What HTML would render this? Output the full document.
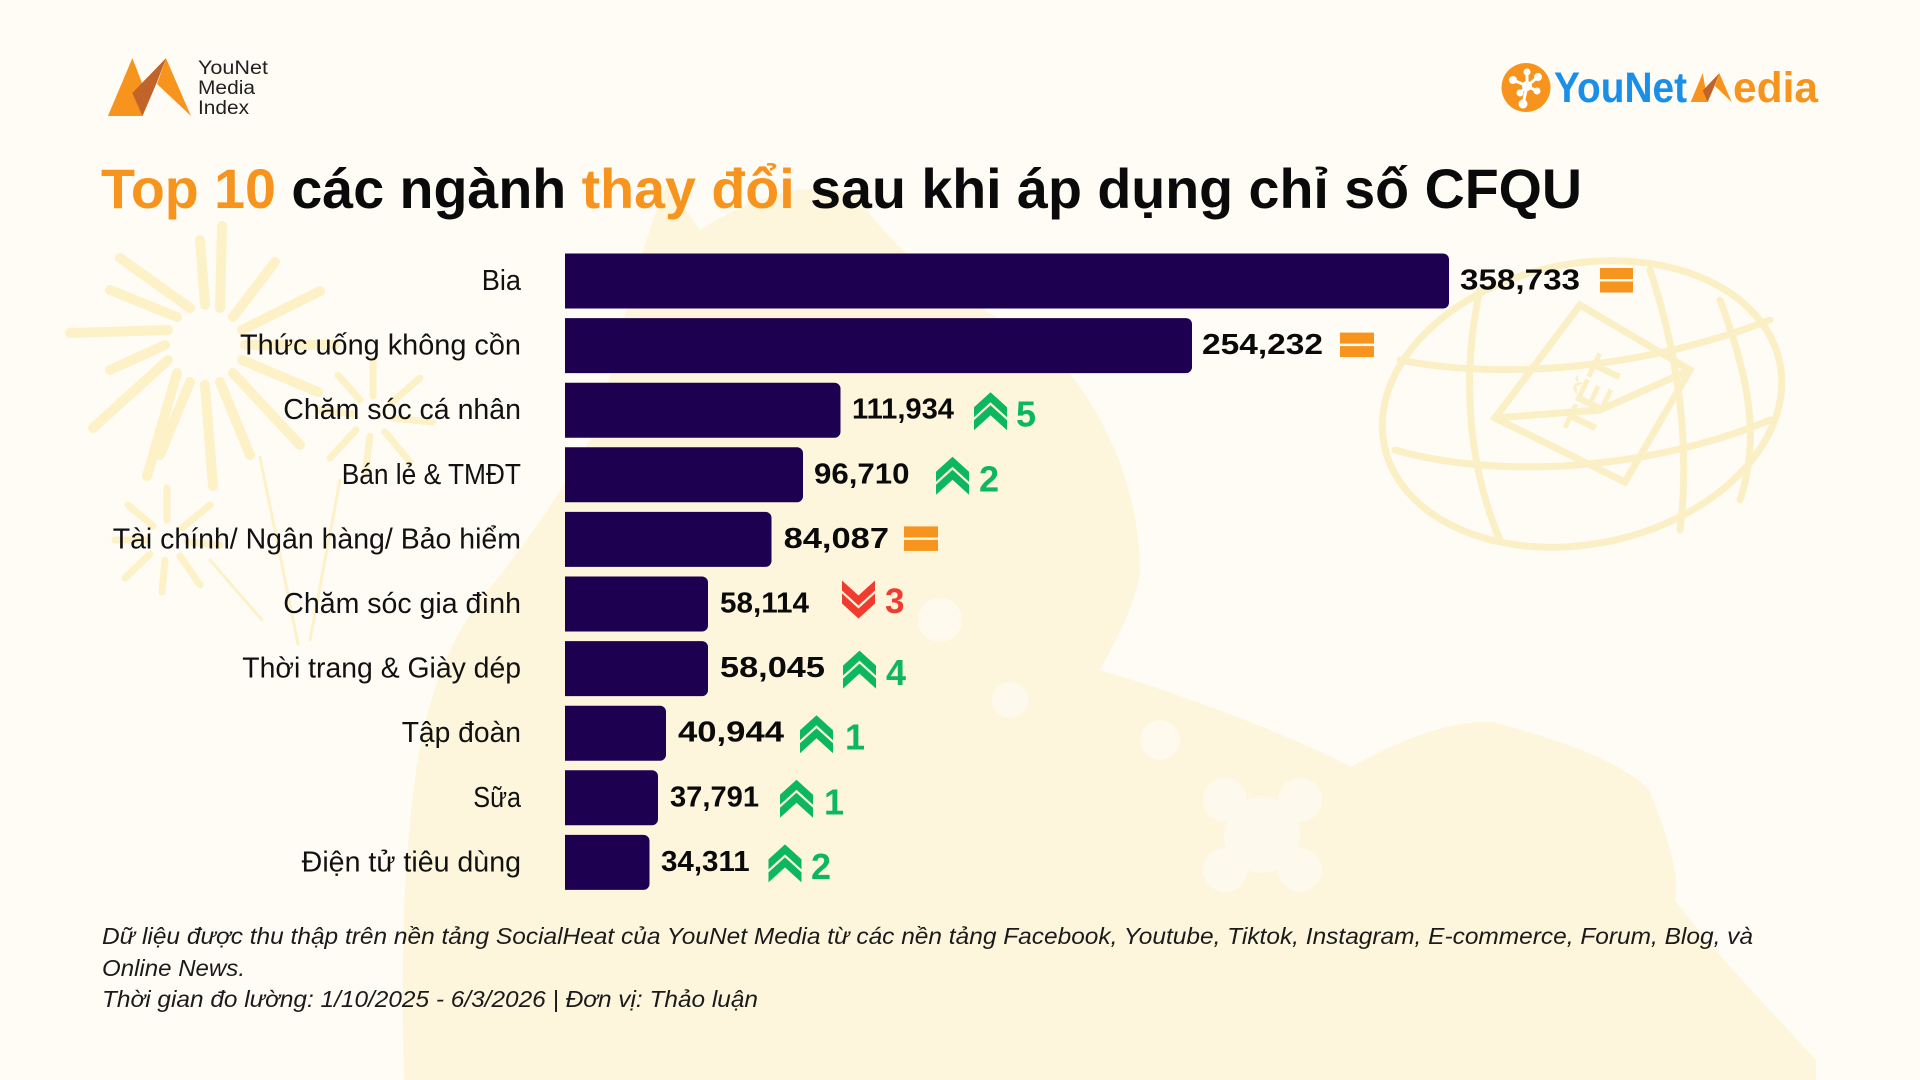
<!DOCTYPE html>
<html>
<head>
<meta charset="utf-8">
<style>
  html,body{margin:0;padding:0;background:#fffcf6;}
  svg{display:block;}
  text{font-family:"Liberation Sans","DejaVu Sans",sans-serif;}
</style>
</head>
<body>
<svg width="1920" height="1080" viewBox="0 0 1920 1080" xmlns="http://www.w3.org/2000/svg">
  <rect x="0" y="0" width="1920" height="1080" fill="#fffcf6"/>

  <!-- horse silhouette (faint) -->
  <path fill="#fdf5dc" d="M404 1080 C400 950,405 850,415 780 C425 700,450 640,480 600 C530 540,570 480,600 420 C620 330,640 250,667 184 L700 230 C760 190,820 180,857 196 C900 260,960 300,1040 340 C1100 400,1140 480,1140 575 C1130 620,1110 650,1100 670 C1200 700,1300 740,1351 767 C1400 740,1450 720,1492 722 C1560 740,1620 760,1649 790 C1670 840,1680 880,1675 900 C1720 960,1780 1020,1816 1060 L1816 1080 Z"/>
  <!-- a few white flowers on horse -->
  <g fill="#fffaf0" opacity="0.85">
    <circle cx="1262" cy="835" r="38"/><circle cx="1225" cy="800" r="22"/><circle cx="1300" cy="800" r="22"/><circle cx="1225" cy="870" r="22"/><circle cx="1300" cy="870" r="22"/>
    <circle cx="1160" cy="740" r="20"/>
    <circle cx="940" cy="620" r="22"/>
    <circle cx="1010" cy="700" r="18"/>
  </g>

  <!-- fireworks -->
  <g stroke="#fdf1c8" stroke-linecap="round" fill="none">
    <g stroke-width="10">
      <line x1="245" y1="345" x2="335" y2="345"/>
      <line x1="242" y1="360" x2="318" y2="392"/>
      <line x1="233" y1="373" x2="300" y2="445"/>
      <line x1="220" y1="382" x2="250" y2="455"/>
      <line x1="205" y1="385" x2="213" y2="486"/>
      <line x1="190" y1="382" x2="160" y2="455"/>
      <line x1="177" y1="373" x2="147" y2="476"/>
      <line x1="168" y1="360" x2="93" y2="428"/>
      <line x1="165" y1="345" x2="110" y2="370"/>
      <line x1="168" y1="330" x2="70" y2="333"/>
      <line x1="177" y1="317" x2="110" y2="290"/>
      <line x1="190" y1="308" x2="120" y2="258"/>
      <line x1="205" y1="305" x2="200" y2="240"/>
      <line x1="220" y1="308" x2="222" y2="226"/>
      <line x1="233" y1="317" x2="275" y2="262"/>
      <line x1="242" y1="330" x2="320" y2="291"/>
    </g>
    <g stroke-width="7">
      <line x1="167" y1="520" x2="167" y2="488"/>
      <line x1="182" y1="528" x2="210" y2="505"/>
      <line x1="187" y1="542" x2="220" y2="545"/>
      <line x1="180" y1="556" x2="200" y2="585"/>
      <line x1="165" y1="560" x2="162" y2="592"/>
      <line x1="150" y1="554" x2="125" y2="578"/>
      <line x1="147" y1="540" x2="115" y2="540"/>
      <line x1="153" y1="526" x2="128" y2="505"/>
      <line x1="373" y1="396" x2="373" y2="360"/>
      <line x1="390" y1="404" x2="420" y2="378"/>
      <line x1="393" y1="418" x2="432" y2="422"/>
      <line x1="385" y1="432" x2="410" y2="462"/>
      <line x1="370" y1="436" x2="365" y2="475"/>
      <line x1="356" y1="430" x2="330" y2="458"/>
      <line x1="353" y1="414" x2="318" y2="410"/>
      <line x1="360" y1="400" x2="338" y2="375"/>
    </g>
    <g stroke-width="3">
      <line x1="260" y1="457" x2="298" y2="644"/>
      <line x1="340" y1="480" x2="310" y2="640"/>
      <line x1="210" y1="560" x2="262" y2="620"/>
    </g>
  </g>

  <!-- lantern / globe with TET -->
  <g stroke="#fbefc6" stroke-width="7" fill="none" stroke-linecap="round">
    <ellipse cx="1582" cy="404" rx="202" ry="140" transform="rotate(-12 1582 404)"/>
    <path d="M1400 360 C1500 380,1640 370,1770 320"/>
    <path d="M1395 450 C1500 480,1650 470,1770 420"/>
    <path d="M1480 290 C1460 380,1470 470,1500 540"/>
    <path d="M1650 270 C1680 360,1690 450,1680 530"/>
    <path d="M1720 300 C1750 380,1760 440,1740 500"/>
    <polygon points="1580,305 1495,418 1625,482 1690,370"/>
    <path d="M1495 418 L1600 410 L1690 370"/>
  </g>
  <text x="0" y="0" font-size="44" font-weight="bold" fill="#fbefc6" transform="translate(1590 440) rotate(-65)">TẾT</text>

  <!-- top-left logo -->
  <g>
    <polygon points="108,116 132.4,58.3 146,93 136,104" fill="#f7941d"/>
    <polygon points="132.4,93 166,58.3 156.5,83 142.4,116" fill="#c0642a"/>
    <polygon points="166,58.3 191,116 157,84" fill="#f7941d"/>
    <polygon points="108,116 132.4,58.3 142.4,116" fill="#f7941d"/>
    <polygon points="132.4,93 166,58.3 156.5,83 142.4,116" fill="#c0642a"/>
    <text x="198" y="74" font-size="19" fill="#231f20" textLength="70" lengthAdjust="spacingAndGlyphs">YouNet</text>
    <text x="198" y="94" font-size="19" fill="#231f20" textLength="57" lengthAdjust="spacingAndGlyphs">Media</text>
    <text x="198" y="114" font-size="19" fill="#231f20" textLength="51" lengthAdjust="spacingAndGlyphs">Index</text>
  </g>

  <!-- top-right logo -->
  <g>
    <circle cx="1526" cy="87.5" r="24.5" fill="#f7941d"/>
    <g stroke="#ffffff" stroke-width="3">
      <line x1="1513" y1="80" x2="1527" y2="86"/>
      <line x1="1527" y1="72" x2="1527" y2="86"/>
      <line x1="1538" y1="77" x2="1527" y2="86"/>
      <line x1="1520" y1="93" x2="1527" y2="86"/>
      <line x1="1537" y1="91" x2="1527" y2="86"/>
      <line x1="1523" y1="104" x2="1527" y2="86"/>
    </g>
    <g fill="#ffffff">
      <circle cx="1527" cy="86" r="5"/>
      <circle cx="1513" cy="80" r="4"/>
      <circle cx="1527" cy="72" r="3.5"/>
      <circle cx="1538" cy="77" r="4"/>
      <circle cx="1520" cy="93" r="3.5"/>
      <circle cx="1537" cy="91" r="3.5"/>
      <circle cx="1523" cy="104" r="4.5"/>
    </g>
    <text x="1554" y="102" font-size="43" font-weight="bold" fill="#1a8fe8" textLength="133" lengthAdjust="spacingAndGlyphs">YouNet</text>
    <g transform="translate(1637.35 44) scale(0.494 0.5)">
      <polygon points="108,116 132.4,58.3 142.4,116" fill="#f7941d"/>
      <polygon points="166,58.3 191,116 157,84" fill="#f7941d"/>
      <polygon points="132.4,93 166,58.3 156.5,83 142.4,116" fill="#c0642a"/>
    </g>
    <text x="1733" y="102" font-size="43" font-weight="bold" fill="#f7941d" textLength="85" lengthAdjust="spacingAndGlyphs">edia</text>
  </g>

  <!-- title -->
  <text x="101" y="208" font-size="55.5" font-weight="bold" fill="#0a0a0a" textLength="1481" lengthAdjust="spacingAndGlyphs"><tspan fill="#f7941d">Top 10</tspan> các ngành <tspan fill="#f7941d">thay đổi</tspan> sau khi áp dụng chỉ số CFQU</text>

  <!-- bars -->
  <g fill="#1e0050">
    <path d="M565 253.5 h878 a6 6 0 0 1 6 6 v43 a6 6 0 0 1 -6 6 h-878 z"/>
    <path d="M565 318.1 h621 a6 6 0 0 1 6 6 v43 a6 6 0 0 1 -6 6 h-621 z"/>
    <path d="M565 382.7 h269.5 a6 6 0 0 1 6 6 v43 a6 6 0 0 1 -6 6 h-269.5 z"/>
    <path d="M565 447.3 h232 a6 6 0 0 1 6 6 v43 a6 6 0 0 1 -6 6 h-232 z"/>
    <path d="M565 511.9 h200.5 a6 6 0 0 1 6 6 v43 a6 6 0 0 1 -6 6 h-200.5 z"/>
    <path d="M565 576.5 h137 a6 6 0 0 1 6 6 v43 a6 6 0 0 1 -6 6 h-137 z"/>
    <path d="M565 641.1 h137 a6 6 0 0 1 6 6 v43 a6 6 0 0 1 -6 6 h-137 z"/>
    <path d="M565 705.7 h95 a6 6 0 0 1 6 6 v43 a6 6 0 0 1 -6 6 h-95 z"/>
    <path d="M565 770.3 h87 a6 6 0 0 1 6 6 v43 a6 6 0 0 1 -6 6 h-87 z"/>
    <path d="M565 834.9 h78.5 a6 6 0 0 1 6 6 v43 a6 6 0 0 1 -6 6 h-78.5 z"/>
  </g>

  <!-- labels -->
  <g font-size="28.5" fill="#111111">
    <text x="481.7" y="290" textLength="39.3" lengthAdjust="spacingAndGlyphs">Bia</text>
    <text x="240" y="354.6" textLength="281" lengthAdjust="spacingAndGlyphs">Thức uống không cồn</text>
    <text x="283.3" y="419.2" textLength="237.7" lengthAdjust="spacingAndGlyphs">Chăm sóc cá nhân</text>
    <text x="341.7" y="483.8" textLength="179.3" lengthAdjust="spacingAndGlyphs">Bán lẻ &amp; TMĐT</text>
    <text x="112.7" y="548.4" textLength="408.3" lengthAdjust="spacingAndGlyphs">Tài chính/ Ngân hàng/ Bảo hiểm</text>
    <text x="283.3" y="613" textLength="237.7" lengthAdjust="spacingAndGlyphs">Chăm sóc gia đình</text>
    <text x="242.3" y="677.6" textLength="278.7" lengthAdjust="spacingAndGlyphs">Thời trang &amp; Giày dép</text>
    <text x="401.7" y="742.2" textLength="119.3" lengthAdjust="spacingAndGlyphs">Tập đoàn</text>
    <text x="473.3" y="806.8" textLength="47.7" lengthAdjust="spacingAndGlyphs">Sữa</text>
    <text x="301.7" y="871.4" textLength="219.3" lengthAdjust="spacingAndGlyphs">Điện tử tiêu dùng</text>
  </g>

  <!-- values -->
  <g font-size="29" font-weight="bold" fill="#0a0a0a">
    <text x="1460" y="289.5" textLength="120" lengthAdjust="spacingAndGlyphs">358,733</text>
    <text x="1202" y="354.1" textLength="121" lengthAdjust="spacingAndGlyphs">254,232</text>
    <text x="852" y="418.7" textLength="102" lengthAdjust="spacingAndGlyphs">111,934</text>
    <text x="814" y="483.3" textLength="95.5" lengthAdjust="spacingAndGlyphs">96,710</text>
    <text x="783.6" y="547.9" textLength="105.4" lengthAdjust="spacingAndGlyphs">84,087</text>
    <text x="720" y="612.5" textLength="89" lengthAdjust="spacingAndGlyphs">58,114</text>
    <text x="720" y="677.1" textLength="105" lengthAdjust="spacingAndGlyphs">58,045</text>
    <text x="678" y="741.7" textLength="106" lengthAdjust="spacingAndGlyphs">40,944</text>
    <text x="670" y="806.3" textLength="89" lengthAdjust="spacingAndGlyphs">37,791</text>
    <text x="661" y="870.9" textLength="88.7" lengthAdjust="spacingAndGlyphs">34,311</text>
  </g>

  <!-- equal icons -->
  <g fill="#f7941d">
    <rect x="1600" y="268" width="33" height="11"/><rect x="1600" y="281.5" width="33" height="11"/>
    <rect x="1340" y="332.6" width="34" height="11"/><rect x="1340" y="346.1" width="34" height="11"/>
    <rect x="904" y="526.4" width="34" height="11"/><rect x="904" y="539.9" width="34" height="11"/>
  </g>

  <defs>
    <g id="up">
      <path d="M0 15 L16.5 0 L33 15 L33 25 L16.5 10 L0 25 Z"/>
      <path d="M0 28 L16.5 13 L33 28 L33 38 L16.5 23 L0 38 Z"/>
    </g>
    <g id="down">
      <path d="M0 0 L16.5 15 L33 0 L33 10 L16.5 25 L0 10 Z"/>
      <path d="M0 13 L16.5 28 L33 13 L33 23 L16.5 38 L0 23 Z"/>
    </g>
  </defs>

  <!-- arrows -->
  <g fill="#0cb760">
    <use href="#up" x="974" y="392.2"/>
    <use href="#up" x="936" y="456.8"/>
    <use href="#up" x="843" y="650.6"/>
    <use href="#up" x="800" y="715.2"/>
    <use href="#up" x="780" y="779.8"/>
    <use href="#up" x="768.5" y="844.4"/>
  </g>
  <g fill="#f23b2f">
    <use href="#down" x="842" y="580.5"/>
  </g>

  <!-- rank change numbers -->
  <g font-size="36" font-weight="bold" fill="#0cb760">
    <text x="1016" y="426.7">5</text>
    <text x="979" y="491.3">2</text>
    <text x="886" y="685.1">4</text>
    <text x="845" y="749.7">1</text>
    <text x="824" y="814.3">1</text>
    <text x="811" y="878.9">2</text>
  </g>
  <text x="885" y="613" font-size="35" font-weight="bold" fill="#f23b2f">3</text>

  <!-- footer -->
  <g font-size="23" font-style="italic" fill="#1a1a1a">
    <text x="102" y="944" textLength="1651" lengthAdjust="spacingAndGlyphs">Dữ liệu được thu thập trên nền tảng SocialHeat của YouNet Media từ các nền tảng Facebook, Youtube, Tiktok, Instagram, E-commerce, Forum, Blog, và</text>
    <text x="102" y="976" textLength="143" lengthAdjust="spacingAndGlyphs">Online News.</text>
    <text x="102" y="1007" textLength="656" lengthAdjust="spacingAndGlyphs">Thời gian đo lường: 1/10/2025 - 6/3/2026 | Đơn vị: Thảo luận</text>
  </g>
</svg>
</body>
</html>
